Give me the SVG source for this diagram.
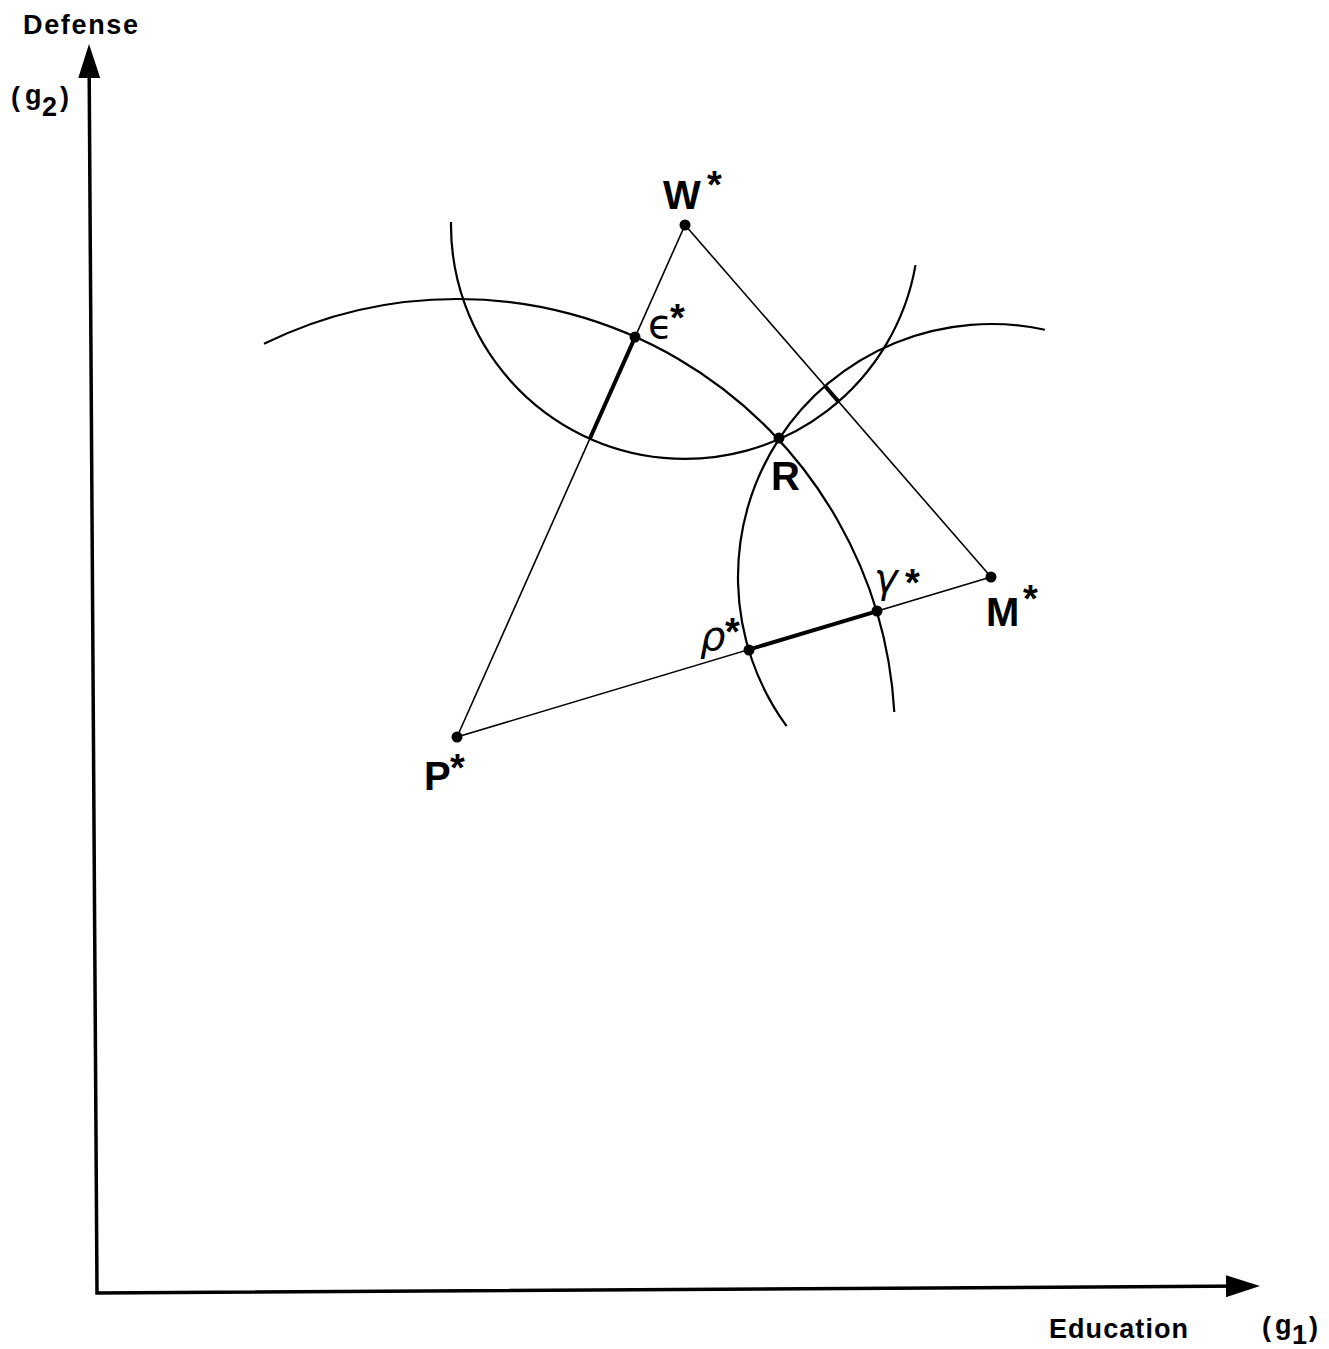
<svg xmlns="http://www.w3.org/2000/svg" width="1329" height="1349" viewBox="0 0 1329 1349">
<style>
.axis{fill:none;stroke:#000;stroke-width:3.5;stroke-linejoin:miter}
.thin{fill:none;stroke:#000;stroke-width:1.6}
.arc{fill:none;stroke:#000;stroke-width:2.2}
.thick{fill:none;stroke:#000;stroke-width:4}
.dot{fill:#000}
.ax{font-family:"Liberation Sans",Arial,sans-serif;font-weight:bold;font-size:27px;fill:#000}
.par{font-family:"Liberation Sans",Arial,sans-serif;font-weight:bold;font-size:27px;fill:#000}
.lbl{font-family:"Liberation Sans",Arial,sans-serif;font-weight:bold;font-size:40px;fill:#000}
.star{font-family:"Liberation Sans",Arial,sans-serif;font-weight:bold;font-size:38px;fill:#000}
.gr{font-family:"DejaVu Sans",sans-serif;font-size:40px;fill:#000}
.it{font-style:italic}
</style>
<defs>
<marker id="arrow" markerUnits="userSpaceOnUse" viewBox="0 0 34 22" refX="24" refY="11" markerWidth="34" markerHeight="22" orient="auto-start-reverse">
<path d="M0,0 L34,11 L0,22 Z" fill="#000"/>
</marker>
</defs>
<rect width="1329" height="1349" fill="#fff"/>
<g id="axes">
<path class="axis" d="M89.06,54 L97,1293 L1250,1286.06" marker-start="url(#arrow)" marker-end="url(#arrow)"/>
<text class="ax" x="23" y="34" textLength="115" lengthAdjust="spacing">Defense</text>
<text class="par" x="11" y="106">(</text>
<text class="par" x="25" y="104">g</text>
<text class="par" x="42" y="116">2</text>
<text class="par" x="60" y="106">)</text>
<text class="ax" x="1049" y="1338" textLength="139" lengthAdjust="spacing">Education</text>
<text class="par" x="1262" y="1336">(</text>
<text class="par" x="1275" y="1334">g</text>
<text class="par" x="1292" y="1344">1</text>
<text class="par" x="1309" y="1336">)</text>
</g>
<g id="connectors">
<line class="thin" x1="457" y1="737" x2="685" y2="225"/>
<line class="thin" x1="685" y1="225" x2="991" y2="577"/>
<line class="thin" x1="457" y1="737" x2="991" y2="577"/>
<path class="arc" d="M264,343.8 A438,438 0 0 1 894.3,712"/>
<path class="arc" d="M451,222 A234,234 0 0 0 915.5,265.1"/>
<path class="arc" d="M1044.9,329.8 A253,253 0 0 0 786.6,726.1"/>
<line class="thick" x1="635.2" y1="336.9" x2="589.8" y2="438.8"/>
<line class="thick" x1="748.7" y1="649.6" x2="876.5" y2="611.3"/>
<line class="thick" x1="825" y1="386" x2="838.5" y2="401.6"/>
</g>
<g id="W">
<circle class="dot" cx="685" cy="225" r="5.5"/>
<text class="lbl" x="663" y="209">W</text>
<text class="star" x="707" y="198">*</text>
</g>
<g id="epsilon">
<circle class="dot" cx="635" cy="337" r="5.5"/>
<text class="gr" x="648" y="338" font-size="35">ϵ</text>
<text class="star" x="670" y="331">*</text>
</g>
<g id="R">
<circle class="dot" cx="779" cy="438" r="5.5"/>
<text class="lbl" x="771" y="490">R</text>
</g>
<g id="M">
<circle class="dot" cx="991" cy="577" r="5.5"/>
<text class="lbl" x="986" y="626">M</text>
<text class="star" x="1023" y="612">*</text>
</g>
<g id="gamma">
<circle class="dot" cx="877" cy="611" r="5.5"/>
<text class="gr it" x="874" y="592">γ</text>
<text class="star" x="905" y="596">*</text>
</g>
<g id="rho">
<circle class="dot" cx="749" cy="650" r="5.5"/>
<text class="gr it" x="700" y="650">ρ</text>
<text class="star" x="725" y="645">*</text>
</g>
<g id="P">
<circle class="dot" cx="457" cy="737" r="5.5"/>
<text class="lbl" x="424" y="790">P</text>
<text class="star" x="450" y="781">*</text>
</g>
</svg>
